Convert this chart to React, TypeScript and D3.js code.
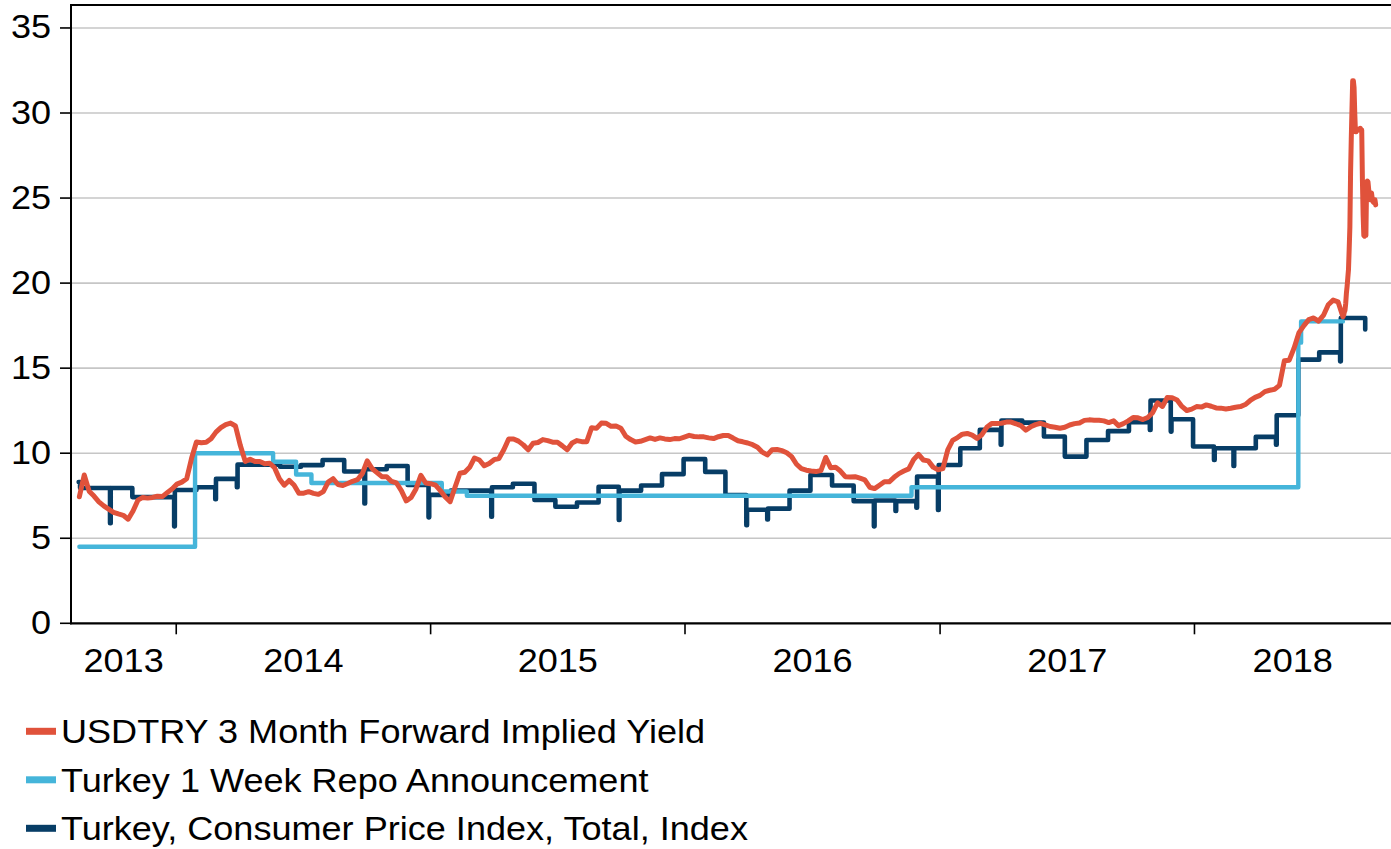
import React from "react";
import * as d3 from "d3";

const W = 1391;
const H = 849;

// ---- Data ----
// USDTRY 3 Month Forward Implied Yield: weekly readings from 2013-08-15, then daily from 2018-08-03
const fwdWeeklyStart = "2013-08-15";
const fwdWeekly = [
  7.44, 8.72, 7.77, 7.48, 7.14, 6.9, 6.71, 6.52, 6.43, 6.35, 6.12, 6.6, 7.24, 7.4, 7.36, 7.4, 7.47, 7.45, 7.68, 7.9,
  8.18, 8.3, 8.5, 9.7, 10.66, 10.62, 10.64, 10.85, 11.24, 11.5, 11.68, 11.77, 11.6, 10.45, 9.52, 9.65, 9.51, 9.51, 9.38, 9.41,
  9.15, 8.5, 8.12, 8.4, 8.13, 7.64, 7.65, 7.74, 7.64, 7.58, 7.74, 8.3, 8.5, 8.16, 8.1, 8.22, 8.35, 8.44, 8.8, 9.55,
  9.1, 8.86, 8.62, 8.62, 8.34, 8.25, 7.8, 7.2, 7.4, 7.9, 8.7, 8.25, 8.21, 8.12, 7.8, 7.43, 7.15, 8.0, 8.82, 8.88,
  9.17, 9.72, 9.6, 9.26, 9.4, 9.62, 9.69, 10.2, 10.83, 10.84, 10.71, 10.49, 10.2, 10.59, 10.63, 10.8, 10.74, 10.65, 10.64, 10.43,
  10.2, 10.6, 10.74, 10.68, 10.68, 11.5, 11.46, 11.77, 11.76, 11.58, 11.6, 11.47, 11.0, 10.8, 10.66, 10.7, 10.8, 10.9, 10.81, 10.9,
  10.84, 10.8, 10.86, 10.85, 10.95, 11.05, 10.98, 10.96, 10.96, 10.9, 10.86, 10.97, 11.04, 11.04, 10.89, 10.73, 10.67, 10.6, 10.5, 10.35,
  10.06, 9.9, 10.2, 10.22, 10.15, 10.03, 9.8, 9.35, 9.09, 9.0, 8.95, 8.92, 8.98, 9.75, 9.15, 9.18, 8.95, 8.62, 8.6, 8.62,
  8.53, 8.43, 8.0, 7.92, 8.12, 8.32, 8.32, 8.58, 8.8, 8.95, 9.08, 9.62, 9.93, 9.6, 9.55, 9.18, 9.03, 9.1, 10.2, 10.75,
  10.92, 11.12, 11.16, 11.06, 10.87, 11.09, 11.52, 11.74, 11.74, 11.76, 11.83, 11.83, 11.73, 11.62, 11.36, 11.55, 11.68, 11.76, 11.67, 11.57,
  11.53, 11.47, 11.53, 11.66, 11.74, 11.78, 11.93, 11.96, 11.94, 11.94, 11.9, 11.8, 11.9, 11.62, 11.74, 11.9, 12.1, 12.08, 11.98, 12.1,
  12.38, 12.96, 12.75, 13.27, 13.26, 13.13, 12.75, 12.51, 12.59, 12.74, 12.71, 12.84, 12.76, 12.66, 12.65, 12.6, 12.64, 12.7, 12.74, 12.86,
  13.1, 13.28, 13.4, 13.62, 13.7, 13.76, 13.99, 15.43, 15.47, 16.19, 17.09, 17.5, 17.85, 17.95, 17.76, 18.1, 18.73, 19.0, 18.9, 18.02,
];
const fwdDailyStart = "2018-08-03";
const fwdDaily = [
  18.1, 18.3, 18.4, 18.8, 19.4, 19.8, 20.3, 20.8, 22.0, 23.3, 26.5, 28.5, 30.2, 31.9, 31.9, 31.5, 30.0, 28.9, 28.9, 29.0,
  29.05, 29.05, 29.0, 29.0, 29.1, 29.0, 29.0, 26.0, 24.0, 22.8, 22.76, 22.8, 22.8, 25.9, 26.0, 25.95, 25.5, 25.1, 24.9, 25.2,
  25.3, 25.0, 24.8, 24.75, 24.9, 24.9, 24.6,
];

// Turkey 1 Week Repo Announcement (step changes)
const repoDates = [
  "2013-08-15", "2014-01-28", "2014-05-20", "2014-06-22", "2014-07-14", "2015-01-17", "2015-02-22",
  "2016-11-21", "2018-05-30", "2018-06-03", "2018-08-02",
];
const repoValues = [4.5, 10.0, 9.5, 8.75, 8.25, 7.75, 7.5, 8.0, 16.5, 17.75, 17.75];

// Turkey CPI: monthly levels from 2013-08
const cpiStartMonth = "2013-08";
const cpiStartDates = ["2013-08-14", "2013-08-16"];
const cpiStartValues = [8.3, 7.95];
const cpiValues = [
  7.95, 7.95, 7.95, 7.42, 7.42,
  7.84, 8.0, 8.49, 9.33, 9.33, 9.2, 9.3, 9.6, 8.92, 9.06, 9.25, 8.13,
  7.55, 7.8, 7.8, 8.0, 8.2, 7.25, 6.85, 7.1, 8.03, 7.8, 8.1, 8.77,
  9.65, 8.9, 7.54, 6.68, 6.74, 7.8, 8.72, 8.1, 7.18, 7.22, 7.18, 8.63,
  9.31, 10.29, 11.37, 11.92, 11.8, 10.98, 9.8, 10.78, 11.3, 11.82, 13.1, 12.0,
  10.39, 10.29, 10.29, 10.96, 12.23, 15.5, 15.93, 17.95,
];
// one-day dips at release transitions
const cpiDipMonths = [
  "2013-10", "2014-01", "2014-03", "2014-04", "2014-10", "2015-01", "2015-04", "2015-10", "2016-04", "2016-05",
  "2016-10", "2016-11", "2016-12", "2017-01", "2017-04", "2017-11", "2017-12", "2018-02", "2018-03", "2018-05", "2018-08",
];
const cpiDipValues = [
  5.88, 5.7, 7.29, 8.0, 7.05, 6.23, 6.27, 6.07, 5.77, 6.1,
  5.7, 6.6, 6.8, 6.66, 10.5, 11.37, 11.27, 9.6, 9.25, 10.5, 15.4,
];
const cpiEndDate = "2018-09-03";
const cpiEndValue = 17.27;

const yTicks = [0, 5, 10, 15, 20, 25, 30, 35];
const yearLabels = [2013, 2014, 2015, 2016, 2017, 2018];
const legendLabels = [
  "USDTRY 3 Month Forward Implied Yield",
  "Turkey 1 Week Repo Announcement",
  "Turkey, Consumer Price Index, Total, Index",
];

// ---- Styles ----
const COLORS = ["#E0523B", "#45B5DA", "#073D66"];
const FONT = "'Liberation Sans', Arial, Helvetica, sans-serif";
const FS = 32.5;
const SX = 1.11;

const parse = d3.timeParse("%Y-%m-%d");
const parseMonth = d3.timeParse("%Y-%m");
const fmtMonth = d3.timeFormat("%Y-%m");

type Pt = { date: Date; value: number };

function buildFwd(): Pt[] {
  const s1 = parse(fwdWeeklyStart) as Date;
  const pts: Pt[] = fwdWeekly.map((v, i) => ({ date: d3.timeDay.offset(s1, i * 7), value: v }));
  const s2 = parse(fwdDailyStart) as Date;
  fwdDaily.forEach((v, i) => pts.push({ date: d3.timeDay.offset(s2, i), value: v }));
  return pts;
}

function buildRepo(): Pt[] {
  return repoDates.map((d, i) => ({ date: parse(d) as Date, value: repoValues[i] }));
}

function buildCpi(): Pt[] {
  const pts: Pt[] = cpiStartDates.map((d, i) => ({ date: parse(d) as Date, value: cpiStartValues[i] }));
  const start = parseMonth(cpiStartMonth) as Date;
  cpiValues.forEach((v, i) => {
    if (i === 0) return;
    const m = d3.timeMonth.offset(start, i);
    const di = cpiDipMonths.indexOf(fmtMonth(m));
    if (di >= 0) pts.push({ date: d3.timeDay.offset(m, -3), value: cpiDipValues[di] });
    pts.push({ date: d3.timeDay.offset(m, -2), value: v });
  });
  pts.push({ date: parse(cpiEndDate) as Date, value: cpiEndValue });
  return pts;
}

function SText(props: { x: number; y: number; anchor: string; children: React.ReactNode }) {
  return (
    <text
      transform={`translate(${props.x},${props.y}) scale(${SX},1)`}
      textAnchor={props.anchor as any}
      fontFamily={FONT}
      fontSize={FS}
      fill="#000"
    >
      {props.children}
    </text>
  );
}

export default function App() {
  const left = 71;
  const right = 1391;
  const top = 5;
  const bottom = 623.3;

  const x = d3
    .scaleTime()
    .domain([parse("2013-08-03") as Date, parse("2018-10-10") as Date])
    .range([left, right]);
  const y = d3.scaleLinear().domain([0, 36.35]).range([bottom, top]);

  const lineLinear = d3
    .line<Pt>()
    .x((d) => x(d.date))
    .y((d) => y(d.value));
  const lineStep = d3
    .line<Pt>()
    .x((d) => x(d.date))
    .y((d) => y(d.value))
    .curve(d3.curveStepAfter);

  const fwd = buildFwd();
  const repo = buildRepo();
  const cpi = buildCpi();

  const yearTicks = yearLabels.slice(1).map((yr) => new Date(yr, 0, 1));

  return (
    <svg
      width={W}
      height={H}
      viewBox={`0 0 ${W} ${H}`}
      style={{ position: "absolute", left: 0, top: 0, background: "#fff" }}
    >
      <rect x={0} y={0} width={W} height={H} fill="#fff" />
      <defs>
        <clipPath id="plotClip">
          <rect x={left} y={top} width={right - left} height={bottom - top} />
        </clipPath>
      </defs>

      {/* gridlines */}
      {yTicks.slice(1).map((t) => (
        <line key={t} x1={left} x2={right} y1={y(t)} y2={y(t)} stroke="#c6c6c6" strokeWidth={1.6} />
      ))}

      {/* series */}
      <g clipPath="url(#plotClip)" fill="none" strokeLinejoin="round" strokeLinecap="round">
        <path d={lineStep(cpi) || ""} stroke={COLORS[2]} strokeWidth={4.6} />
        <path d={lineStep(repo) || ""} stroke={COLORS[1]} strokeWidth={4.4} />
        <path d={lineLinear(fwd) || ""} stroke={COLORS[0]} strokeWidth={5} />
      </g>

      {/* axes frame */}
      <line x1={left} x2={right} y1={top} y2={top} stroke="#000" strokeWidth={2} />
      <line x1={left} x2={left} y1={top - 1} y2={bottom + 1} stroke="#000" strokeWidth={2} />
      <line x1={left - 1} x2={right} y1={bottom} y2={bottom} stroke="#000" strokeWidth={2.2} />

      {/* y ticks + labels */}
      {yTicks.map((t) => (
        <g key={t}>
          <line x1={60} x2={left} y1={y(t)} y2={y(t)} stroke="#000" strokeWidth={1.6} />
          <SText x={51} y={y(t) + 10.5} anchor="end">
            {t}
          </SText>
        </g>
      ))}

      {/* x ticks */}
      {yearTicks.map((d, i) => (
        <line key={i} x1={x(d)} x2={x(d)} y1={bottom} y2={bottom + 11} stroke="#000" strokeWidth={1.6} />
      ))}
      {yearLabels.map((yr) => {
        const a = Math.max(left, x(new Date(yr, 0, 1)));
        const b = Math.min(right, x(new Date(yr + 1, 0, 1)));
        return (
          <SText key={yr} x={(a + b) / 2} y={672} anchor="middle">
            {yr}
          </SText>
        );
      })}

      {/* legend */}
      {legendLabels.map((lab, i) => {
        const cy = 731.3 + i * 48.5;
        return (
          <g key={lab}>
            <line x1={26} x2={56} y1={cy} y2={cy} stroke={COLORS[i]} strokeWidth={7} />
            <SText x={61} y={cy + 11.7} anchor="start">
              {lab}
            </SText>
          </g>
        );
      })}
    </svg>
  );
}
